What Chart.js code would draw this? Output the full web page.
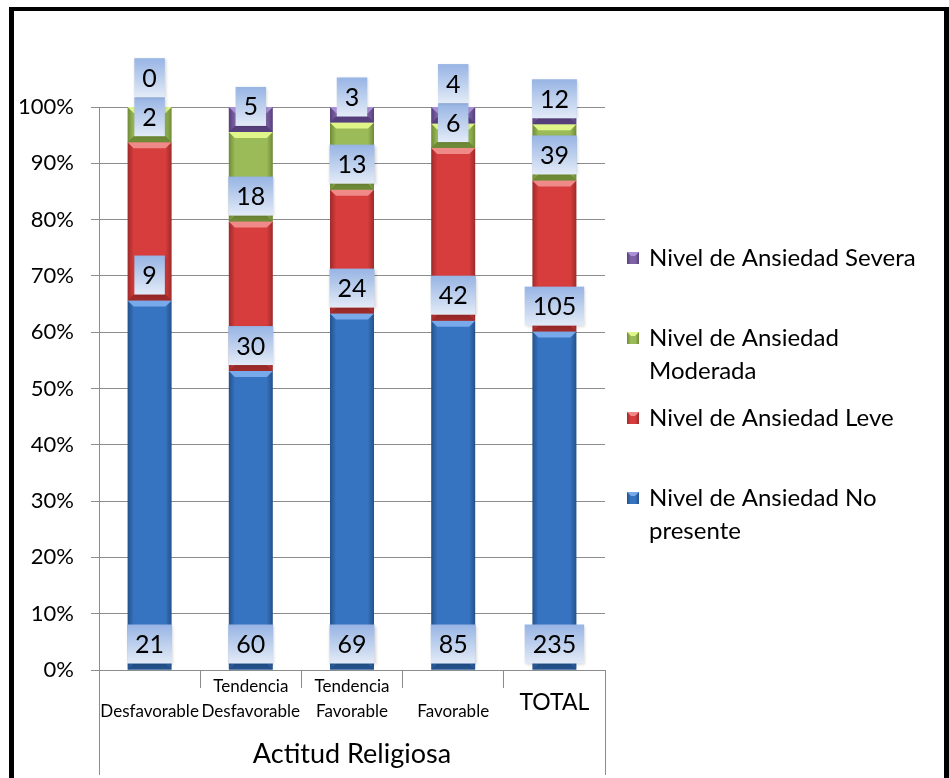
<!DOCTYPE html>
<html><head><meta charset="utf-8">
<script src="https://cdn.jsdelivr.net/npm/chart.js@4/dist/chart.umd.min.js"></script>
<style>html,body{margin:0;padding:0;background:#fff;overflow:hidden}</style>
</head><body>
<canvas id="c" width="949" height="778"></canvas>
<script>
// ---- data ----
const categories = [["", "Desfavorable"], ["Tendencia", "Desfavorable"], ["Tendencia", "Favorable"], ["", "Favorable"], ["", "TOTAL"]];
const seriesNames = ["Nivel de Ansiedad No presente", "Nivel de Ansiedad Leve", "Nivel de Ansiedad Moderada", "Nivel de Ansiedad Severa"];
const noPresente = [21, 60, 69, 85, 235];
const leve = [9, 30, 24, 42, 105];
const moderada = [2, 18, 13, 6, 39];
const severa = [0, 5, 3, 4, 12];
const axisTitle = "Actitud Religiosa";

// ---- styling ----
const FONT = "Lato, 'Open Sans', sans-serif";
const palette = [
  {main: '#3673c0', dark: '#24518a', light: '#78a9ea'},
  {main: '#d63d3c', dark: '#9e2a2a', light: '#f08a88'},
  {main: '#9bbb59', dark: '#6f8a36', light: '#e0f58a'},
  {main: '#7e62a6', dark: '#56407c', light: '#aa90d4'}
];
const counts = [noPresente, leve, moderada, severa];
const totals = categories.map((_, i) => counts.reduce((s, arr) => s + arr[i], 0));
const pct = arr => arr.map((v, i) => v / totals[i] * 100);

function barFill(idx) {
  return function(ctx) {
    const chart = ctx.chart;
    const p = palette[idx];
    if (!chart.chartArea || !chart.scales.x) return p.main;
    const x = chart.scales.x.getPixelForValue(ctx.dataIndex);
    const w = 22;
    const g = chart.ctx.createLinearGradient(x - w, 0, x + w, 0);
    g.addColorStop(0, p.dark);
    g.addColorStop(0.14, p.main);
    g.addColorStop(0.86, p.main);
    g.addColorStop(1, p.dark);
    return g;
  };
}

const datasets = counts.map((arr, k) => ({
  label: seriesNames[k],
  data: pct(arr),
  counts: arr,
  backgroundColor: barFill(k),
  borderWidth: 0,
  barPercentage: 0.435,
  categoryPercentage: 1
}));

const GRID = '#8c8c8c';

const framePlugin = {
  id: 'frame',
  beforeDraw(chart) {
    const c = chart.ctx;
    c.save();
    c.fillStyle = '#fff';
    c.fillRect(0, 0, chart.width, chart.height);
    c.fillStyle = '#000';
    c.fillRect(9, 7, 940, 4);
    c.fillRect(9, 7, 5, 771);
    c.fillRect(944, 7, 5, 771);
    c.restore();
  },
  afterDraw(chart) {
    const c = chart.ctx, xs = chart.scales.x;
    c.save();
    c.strokeStyle = GRID;
    c.lineWidth = 1;
    [xs.left, xs.right].forEach(x => {
      c.beginPath();
      c.moveTo(Math.round(x) + 0.5, xs.top);
      c.lineTo(Math.round(x) + 0.5, 775);
      c.stroke();
    });
    c.restore();
  }
};

const bevelPlugin = {
  id: 'bevel',
  afterDatasetsDraw(chart) {
    const c = chart.ctx;
    c.save();
    chart.data.datasets.forEach((ds, k) => {
      const p = palette[k];
      chart.getDatasetMeta(k).data.forEach(el => {
        const {x, y, base, width} = el.getProps(['x', 'y', 'base', 'width'], true);
        const top = Math.min(y, base), bot = Math.max(y, base);
        const h = bot - top;
        if (h < 1) return;
        const b = Math.min(6, h / 2);
        const l = x - width / 2, r = x + width / 2;
        c.fillStyle = p.light;
        c.beginPath();
        c.moveTo(l, top); c.lineTo(r, top); c.lineTo(r - b, top + b); c.lineTo(l + b, top + b); c.closePath();
        c.fill();
        c.fillStyle = p.dark;
        c.beginPath();
        c.moveTo(l, bot); c.lineTo(r, bot); c.lineTo(r - b, bot - b); c.lineTo(l + b, bot - b); c.closePath();
        c.fill();
      });
    });
    c.restore();
  }
};

const labelPlugin = {
  id: 'valueLabels',
  afterDatasetsDraw(chart) {
    const c = chart.ctx;
    c.save();
    c.font = `25px ${FONT}`;
    c.textAlign = 'center';
    c.textBaseline = 'middle';
    const n = chart.data.labels.length;
    for (let i = 0; i < n; i++) {
      let prevTop = Infinity;
      chart.data.datasets.forEach((ds, k) => {
        const el = chart.getDatasetMeta(k).data[i];
        const {x, base} = el.getProps(['x', 'base'], true);
        const txt = String(ds.counts[i]);
        const bottom = Math.min(base - 6, prevTop);
        const top = bottom - 39;
        const w = c.measureText(txt).width + 16;
        c.shadowColor = 'rgba(0,0,0,0.18)';
        c.shadowBlur = 3;
        c.shadowOffsetX = 1; c.shadowOffsetY = 1;
        const g = c.createLinearGradient(0, top, 0, bottom);
        g.addColorStop(0, '#97b4e4');
        g.addColorStop(1, '#e3ebf7');
        c.fillStyle = g;
        c.fillRect(x - w / 2, top, w, bottom - top);
        c.shadowColor = 'transparent';
        c.fillStyle = '#000';
        c.fillText(txt, x, (top + bottom) / 2 + 1);
        prevTop = top;
      });
    }
    c.restore();
  }
};

function wrap(c, text, maxW) {
  const words = text.split(' ');
  const lines = [];
  let cur = '';
  words.forEach(w => {
    const t = cur ? cur + ' ' + w : w;
    if (c.measureText(t).width > maxW && cur) { lines.push(cur); cur = w; }
    else cur = t;
  });
  if (cur) lines.push(cur);
  return lines;
}

const legendPlugin = {
  id: 'sideLegend',
  afterDraw(chart) {
    const c = chart.ctx;
    c.save();
    c.font = `24px ${FONT}`;
    c.textBaseline = 'middle';
    c.textAlign = 'left';
    const dss = chart.data.datasets;
    for (let k = 0; k < dss.length; k++) {
      const di = dss.length - 1 - k;
      const p = palette[di];
      const y0 = 258 + 80 * k;
      const g = c.createLinearGradient(627, 0, 639, 0);
      g.addColorStop(0, p.dark); g.addColorStop(0.3, p.main); g.addColorStop(0.7, p.main); g.addColorStop(1, p.dark);
      c.fillStyle = g;
      c.fillRect(627, y0 - 6, 12, 12);
      c.fillStyle = p.light;
      c.beginPath(); c.moveTo(627, y0 - 6); c.lineTo(639, y0 - 6); c.lineTo(635, y0 - 2); c.lineTo(631, y0 - 2); c.closePath(); c.fill();
      c.fillStyle = '#000';
      wrap(c, dss[di].label, 284).forEach((line, j) => c.fillText(line, 649, y0 + 33 * j));
    }
    c.restore();
  }
};

new Chart(document.getElementById('c'), {
  type: 'bar',
  data: { labels: categories, datasets },
  options: {
    responsive: false,
    devicePixelRatio: 1,
    animation: false,
    layout: { padding: { left: 14, right: 344, top: 107, bottom: 0 } },
    plugins: { legend: { display: false }, tooltip: { enabled: false } },
    scales: {
      x: {
        stacked: true,
        grid: { display: true, drawOnChartArea: false, drawTicks: true, tickLength: 18, color: GRID, offset: true },
        border: { display: true, color: GRID },
        ticks: {
          autoSkip: false, maxRotation: 0, minRotation: 0, padding: -13.5, color: '#000',
          font: (ctx) => ctx.index === 4 ? { family: FONT, size: 23, lineHeight: '19px' } : { family: FONT, size: 17, lineHeight: '25px' }
        },
        title: { display: true, text: axisTitle, color: '#000', font: { family: FONT, size: 27 }, padding: { top: 0, bottom: 8 } },
        afterFit: s => { s.height = 108; }
      },
      y: {
        stacked: true, min: 0, max: 100,
        ticks: { stepSize: 10, callback: v => v + '%', padding: 17, color: '#000', font: { family: FONT, size: 22 } },
        grid: { color: GRID, tickLength: 8, drawTicks: true },
        border: { display: true, color: GRID },
        afterFit: s => { s.width = 85; }
      }
    }
  },
  plugins: [framePlugin, bevelPlugin, labelPlugin, legendPlugin]
});
</script>
</body></html>
